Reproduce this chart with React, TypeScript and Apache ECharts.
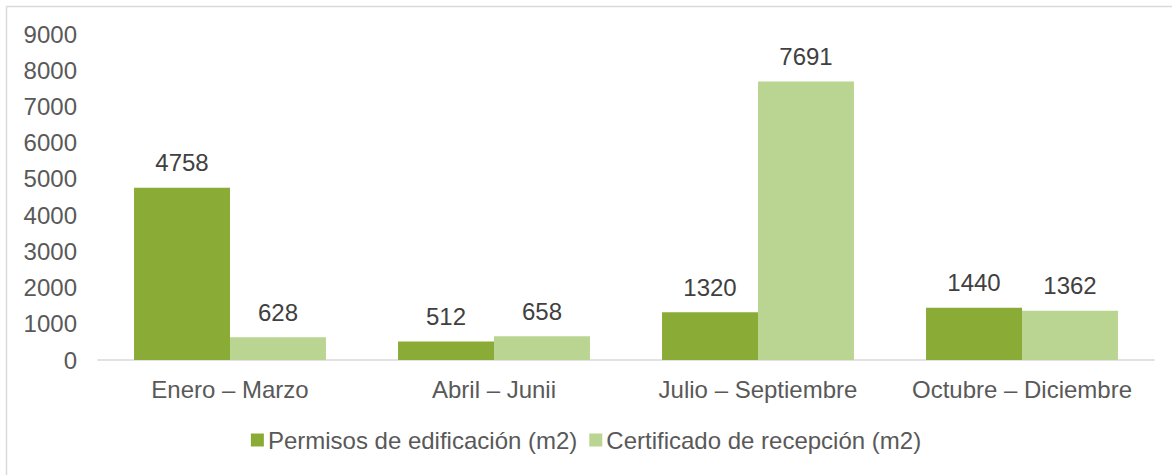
import React, { useEffect, useRef } from "react";
import * as echarts from "echarts";

const categories = ["Enero – Marzo", "Abril – Junii", "Julio – Septiembre", "Octubre – Diciembre"];
const permisos = [4758, 512, 1320, 1440];
const certificados = [628, 658, 7691, 1362];
const seriesNames = ["Permisos de edificación (m2)", "Certificado de recepción (m2)"];

const FONT = "'Liberation Sans', Arial, sans-serif";
const FS = 24;

export default function App() {
  const ref = useRef<HTMLDivElement>(null);
  useEffect(() => {
    document.body.style.margin = "0";
    const chart = echarts.init(ref.current!, null, { renderer: "svg" });
    chart.setOption({
      animation: false,
      backgroundColor: "#ffffff",
      textStyle: { fontFamily: FONT },
      graphic: [
        { type: "line", shape: { x1: 6.5, y1: 6.5, x2: 1172, y2: 6.5 }, style: { stroke: "#d9d9d9", lineWidth: 1.5 } },
        { type: "line", shape: { x1: 6.5, y1: 6.5, x2: 6.5, y2: 475 }, style: { stroke: "#d9d9d9", lineWidth: 1.5 } },
      ],
      grid: { left: 98, right: 18, top: 34, bottom: 115, containLabel: false },
      legend: {
        bottom: 18,
        left: "center",
        icon: "rect",
        itemWidth: 13,
        itemHeight: 13,
        itemGap: 12,
        textStyle: { fontSize: FS, color: "#595959", fontFamily: FONT, padding: [0, 0, 0, -1] },
        data: seriesNames,
      },
      xAxis: {
        type: "category",
        data: categories,
        axisLine: { show: true, lineStyle: { color: "#d9d9d9", width: 1.5 } },
        axisTick: { show: false },
        axisLabel: { color: "#595959", fontSize: FS, margin: 17, fontFamily: FONT, interval: 0, hideOverlap: false },
      },
      yAxis: {
        type: "value",
        min: 0,
        max: 9000,
        interval: 1000,
        splitLine: { show: false },
        axisLine: { show: false },
        axisTick: { show: false },
        axisLabel: { color: "#595959", fontSize: FS, margin: 21, fontFamily: FONT, formatter: (v: number) => String(v) },
      },
      series: [
        {
          name: seriesNames[0],
          type: "bar",
          data: permisos,
          barGap: "0%",
          barCategoryGap: "27.3%",
          itemStyle: { color: "#8aac37" },
          label: { show: true, position: "top", distance: 13, color: "#404040", fontSize: FS, fontFamily: FONT },
        },
        {
          name: seriesNames[1],
          type: "bar",
          data: certificados,
          barGap: "0%",
          barCategoryGap: "27.3%",
          itemStyle: { color: "#b9d591" },
          label: { show: true, position: "top", distance: 13, color: "#404040", fontSize: FS, fontFamily: FONT },
        },
      ],
    });
    return () => chart.dispose();
  }, []);
  return <div ref={ref} style={{ width: 1172, height: 475 }} />;
}
